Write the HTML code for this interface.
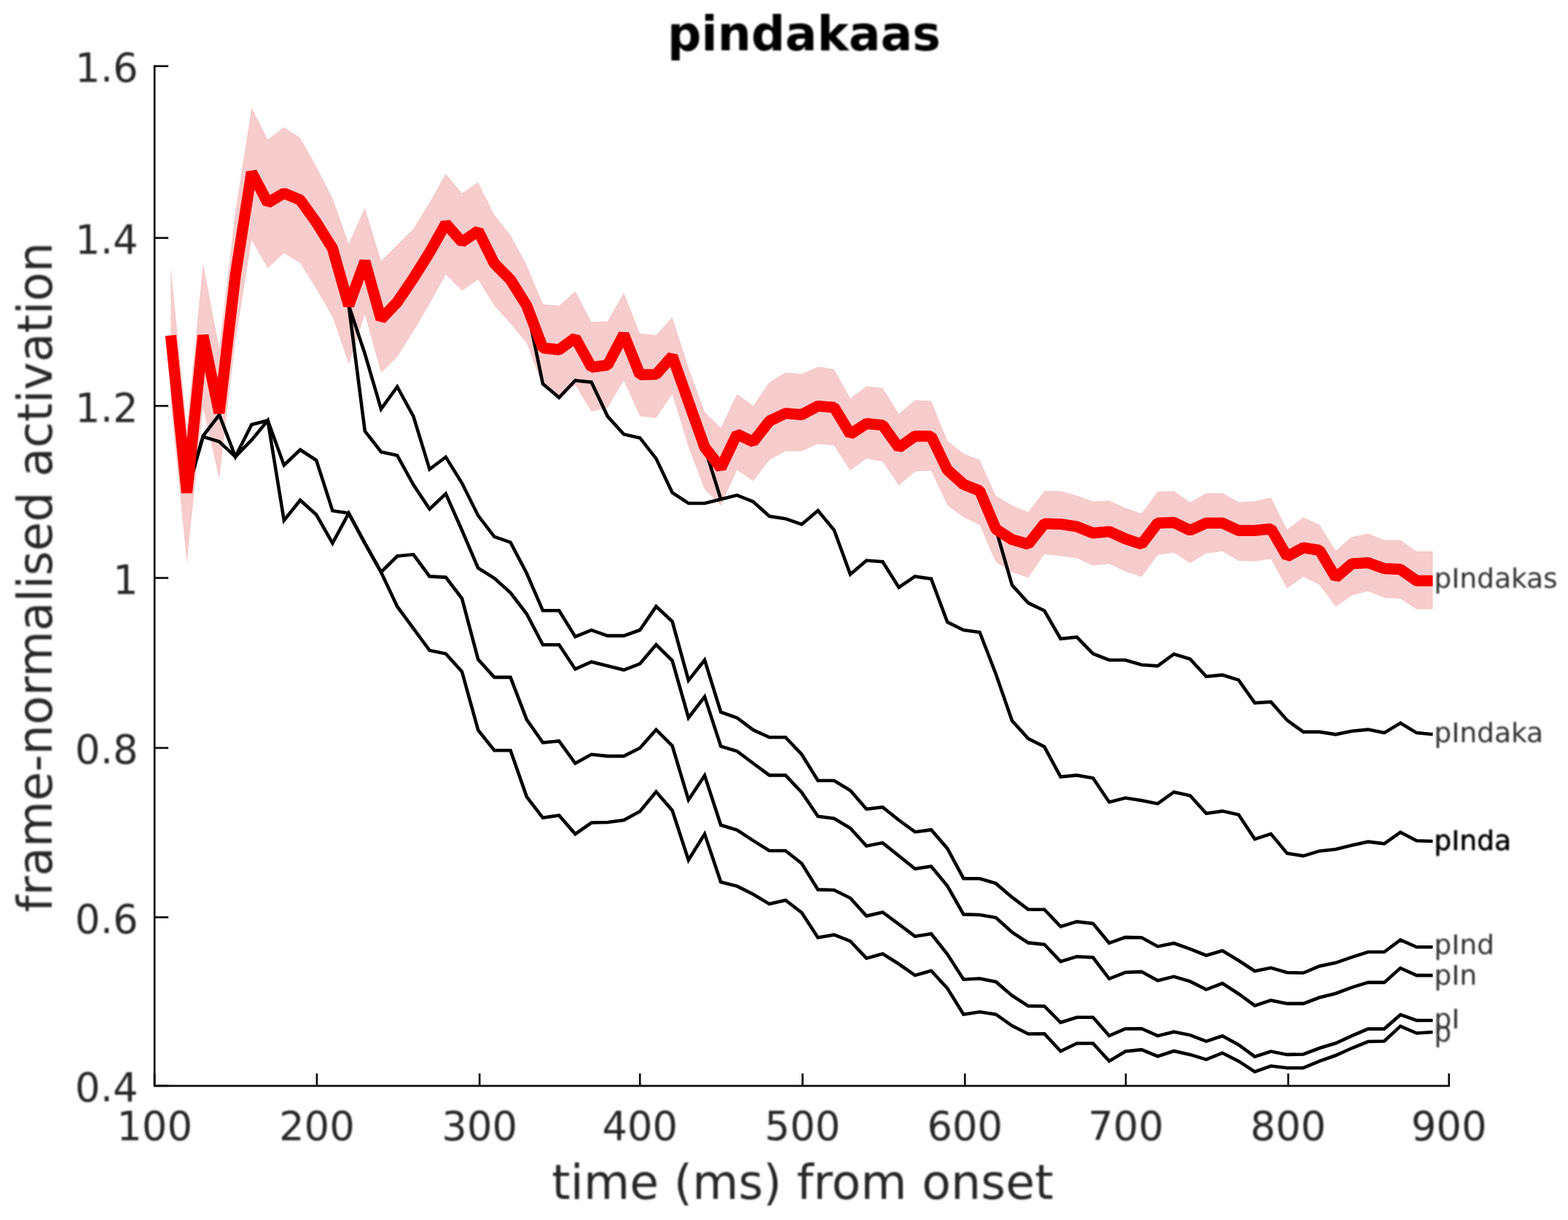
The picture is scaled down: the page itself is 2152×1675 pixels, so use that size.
<!DOCTYPE html>
<html lang="nl">
<head>
<meta charset="utf-8">
<title>pindakaas</title>
<style>
html,body{margin:0;padding:0;background:#fff;}
body{width:2152px;height:1675px;overflow:hidden;}
svg{display:block;}
text{font-family:"DejaVu Sans","Liberation Sans",sans-serif;fill:#262626;}
.soft{filter:blur(0.8px);}
.tick{font-size:54.4px;}
.lab{font-size:65px;}
.ttl{font-size:65px;font-weight:bold;fill:#000;}
.cl{font-size:37.6px;fill:#2e2e2e;}
.cl2{fill:#000;stroke:#000;stroke-width:0.5;}
.ax{stroke:#0d0d0d;stroke-width:2.7;fill:none;stroke-linecap:butt;}
.k{fill:none;stroke:#000;stroke-width:4.6;stroke-linejoin:miter;stroke-miterlimit:3;stroke-linecap:butt;}
.r{fill:none;stroke:#f80000;stroke-width:15.2;stroke-linejoin:bevel;stroke-linecap:butt;}
.band{fill:#f6cccc;stroke:none;}
</style>
</head>
<body>
<svg xmlns="http://www.w3.org/2000/svg" width="2152" height="1675" viewBox="0 0 2152 1675">
<rect width="2152" height="1675" fill="#fff"/>
<g id="plot">
<polygon class="band" points="234.3,366.8 256.5,585 278.7,361.2 300.9,478 323.1,290 345.3,148 367.5,191.5 389.8,174.8 412,189.3 434.2,228.4 456.4,271.9 478.6,334.4 500.8,285.3 523,357.9 545.2,336 567.4,314 589.6,278 611.8,238.4 634,265.2 656.2,250 678.4,294.7 700.6,322.7 722.8,364 745,417.5 767.3,419.8 789.5,399.7 811.7,442.1 833.9,441 856.1,401.9 878.3,457.7 900.5,460 922.7,435.4 944.9,504.6 967.1,565.5 989.3,587.2 1011.5,541 1033.7,557 1055.9,524.7 1078.1,511.3 1100.3,513.5 1122.6,503.4 1144.8,506.8 1167,547 1189.2,530.2 1211.4,532.5 1233.6,568.2 1255.8,549.2 1278,550.3 1300.2,605 1322.4,622.7 1344.6,631.4 1366.8,680.6 1389,694 1411.2,702.9 1433.4,673.9 1455.6,673.9 1477.9,680.6 1500.1,688.4 1522.3,687.3 1544.5,697.3 1566.7,705.1 1588.9,675 1611.1,673.9 1633.3,689.5 1655.5,677.2 1677.7,677 1699.9,689.3 1722.1,688.2 1744.3,683 1766.5,727 1788.7,710.2 1811,720.3 1833.2,756 1855.4,737 1877.6,732.6 1899.8,741.5 1922,741.5 1944.2,757.1 1966.4,757.1 1966.4,836.4 1944.2,836.4 1922,821.9 1899.8,820.8 1877.6,811.8 1855.4,817.4 1833.2,833 1811,802.9 1788.7,791.7 1766.5,808 1744.3,767.4 1722.1,770.8 1699.9,770 1677.7,757 1655.5,759.8 1633.3,773.2 1611.1,758.7 1588.9,762.1 1566.7,792.2 1544.5,784.4 1522.3,774.3 1500.1,776.6 1477.9,766.5 1455.6,763.2 1433.4,760.9 1411.2,793.3 1389,785.5 1366.8,772.1 1344.6,720.8 1322.4,710 1300.2,694 1278,646.3 1255.8,647.4 1233.6,666.4 1211.4,634.1 1189.2,629.6 1167,646.3 1144.8,611.7 1122.6,609.5 1100.3,619.5 1078.1,619.5 1055.9,631.8 1033.7,660.8 1011.5,645.2 989.3,694.3 967.1,672 944.9,614 922.7,541 900.5,573.8 878.3,571.6 856.1,522.5 833.9,560 811.7,565 789.5,529 767.3,545 745,530 722.8,471.1 700.6,444.3 678.4,419.8 656.2,384 634,399.2 611.8,376.9 589.6,417 567.4,455 545.2,490 523,512 500.8,432 478.6,500 456.4,434.9 434.2,396.9 412,361.2 389.8,347.8 367.5,367.9 345.3,330 323.1,468 300.9,657.7 278.7,560 256.5,772.7 234.3,554"/>
<polyline class="k" points="256.5,676.5 278.7,599.6 300.9,606.3 323.1,627.1 345.3,604.1 367.5,577.3 389.8,714.6 412,686.7 434.2,706.8 456.4,745.8 478.6,704.6 500.8,745.8 523,785.5 545.2,832.7 567.4,862.9 589.6,893 611.8,897.5 634,922.1 656.2,1002.4 678.4,1030.2 700.6,1030.2 722.8,1093.8 745,1122.8 767.3,1119.4 789.5,1145.1 811.7,1129.5 833.9,1129 856.1,1126.1 878.3,1113.9 900.5,1087.1 922.7,1112.7 944.9,1180.8 967.1,1145.1 989.3,1211 1011.5,1216.6 1033.7,1227.7 1055.9,1241.1 1078.1,1236 1100.3,1253 1122.6,1287.3 1144.8,1283.4 1167,1292.2 1189.2,1315.6 1211.4,1309.6 1233.6,1323.5 1255.8,1339.1 1278,1332.8 1300.2,1356.9 1322.4,1392.7 1344.6,1389.3 1366.8,1392.7 1389,1408.3 1411.2,1419.5 1433.4,1419.2 1455.6,1443.3 1477.9,1432.5 1500.1,1432.5 1522.3,1456.9 1544.5,1443.5 1566.7,1441.2 1588.9,1450.2 1611.1,1443 1633.3,1447.9 1655.5,1454.6 1677.7,1445.7 1699.9,1456.9 1722.1,1471.4 1744.3,1463.5 1766.5,1466.2 1788.7,1466.2 1811,1456.9 1833.2,1449 1855.4,1439 1877.6,1430 1899.8,1429.5 1922,1408.9 1944.2,1418.5 1966.4,1417"/>
<polyline class="k" points="256.5,676.5 278.7,598.5 300.9,569.5 323.1,627.1 345.3,582.9 367.5,577.3 389.8,638.7 412,617.5 434.2,632 456.4,701.2 478.6,704.6 500.8,745.8 523,785.5 545.2,763.5 567.4,761.3 589.6,791.4 611.8,792.6 634,821.6 656.2,905.3 678.4,929.9 700.6,929.9 722.8,987.9 745,1019.5 767.3,1017.4 789.5,1048.1 811.7,1035.8 833.9,1038.1 856.1,1038.1 878.3,1027 900.5,1001.8 922.7,1024 944.9,1098.2 967.1,1064.7 989.3,1132.8 1011.5,1139.5 1033.7,1154.1 1055.9,1167.9 1078.1,1168 1100.3,1185.5 1122.6,1221.4 1144.8,1222 1167,1233 1189.2,1257.6 1211.4,1252.5 1233.6,1268.8 1255.8,1285.5 1278,1282.1 1300.2,1310.1 1322.4,1344.7 1344.6,1343.5 1366.8,1348 1389,1367 1411.2,1381.1 1433.4,1381.5 1455.6,1403.8 1477.9,1396.7 1500.1,1396.7 1522.3,1422 1544.5,1412.5 1566.7,1412.2 1588.9,1422.2 1611.1,1416.7 1633.3,1421.1 1655.5,1429.6 1677.7,1422.2 1699.9,1434.5 1722.1,1450.6 1744.3,1443.5 1766.5,1447.9 1788.7,1447.5 1811,1439 1833.2,1432.3 1855.4,1422.2 1877.6,1412.6 1899.8,1412.6 1922,1393.2 1944.2,1401 1966.4,1401"/>
<polyline class="k" points="478.6,419.3 500.8,591.8 523,620.4 545.2,625.3 567.4,665.5 589.6,699 611.8,677.8 634,728 656.2,780 678.4,793.8 700.6,813.8 722.8,842.8 745,885.2 767.3,885.2 789.5,918.7 811.7,908.7 833.9,914.2 856.1,919.8 878.3,911.3 900.5,885.1 922.7,907 944.9,985.5 967.1,956.5 989.3,1024.6 1011.5,1031.3 1033.7,1048 1055.9,1064.4 1078.1,1064.4 1100.3,1088 1122.6,1120.8 1144.8,1123.8 1167,1137 1189.2,1161.6 1211.4,1157.1 1233.6,1175 1255.8,1192.8 1278,1189.5 1300.2,1216.3 1322.4,1255.4 1344.6,1256 1366.8,1259.8 1389,1279.9 1411.2,1294.4 1433.4,1296.7 1455.6,1320.1 1477.9,1313.4 1500.1,1314.5 1522.3,1343.8 1544.5,1335 1566.7,1334.1 1588.9,1346.3 1611.1,1340.8 1633.3,1347.4 1655.5,1358.6 1677.7,1350 1699.9,1364.5 1722.1,1380.7 1744.3,1373.4 1766.5,1377.9 1788.7,1377.9 1811,1369.5 1833.2,1364 1855.4,1355.6 1877.6,1348.9 1899.8,1348.9 1922,1329.1 1944.2,1339.1 1966.4,1339.1"/>
<polyline class="k" points="478.6,419.3 500.8,485.8 523,561.7 545.2,531 567.4,571.7 589.6,644.3 611.8,627.5 634,663.3 656.2,707.9 678.4,736.8 700.6,744.6 722.8,787 745,838.3 767.3,838.3 789.5,874.1 811.7,865.1 833.9,872.9 856.1,872.9 878.3,865 900.5,832.6 922.7,853.3 944.9,934.1 967.1,906.2 989.3,977.7 1011.5,985.5 1033.7,1002.2 1055.9,1012.3 1078.1,1012.3 1100.3,1035.7 1122.6,1071.7 1144.8,1071.8 1167,1085.3 1189.2,1110.7 1211.4,1108.1 1233.6,1126 1255.8,1142.2 1278,1139.3 1300.2,1164.9 1322.4,1206.2 1344.6,1206.2 1366.8,1212.9 1389,1231.9 1411.2,1248.7 1433.4,1248.7 1455.6,1272.1 1477.9,1265.4 1500.1,1267.9 1522.3,1294.7 1544.5,1286.9 1566.7,1287.2 1588.9,1299.4 1611.1,1295 1633.3,1302.8 1655.5,1311.7 1677.7,1305.3 1699.9,1318.7 1722.1,1333.2 1744.3,1328.8 1766.5,1335.2 1788.7,1335.8 1811,1326.5 1833.2,1321.8 1855.4,1314.1 1877.6,1307 1899.8,1307 1922,1290.3 1944.2,1300.3 1966.4,1300.3"/>
<polyline class="k" points="722.8,419.5 745,526.9 767.3,545.9 789.5,522.5 811.7,524.7 833.9,571.6 856.1,596.2 878.3,601.2 900.5,629.6 922.7,676.5 944.9,691 967.1,691 989.3,685.4 1011.5,679.8 1033.7,688.8 1055.9,708.8 1078.1,712.2 1100.3,720 1122.6,701 1144.8,727.8 1167,788.5 1189.2,769.5 1211.4,771.3 1233.6,806.5 1255.8,791.4 1278,794.7 1300.2,854 1322.4,865 1344.6,868 1366.8,925.5 1389,989.6 1411.2,1014.1 1433.4,1025.3 1455.6,1066.6 1477.9,1064.4 1500.1,1068.3 1522.3,1101.2 1544.5,1095.6 1566.7,1099 1588.9,1103.4 1611.1,1087.4 1633.3,1092.3 1655.5,1116.8 1677.7,1113.6 1699.9,1118.6 1722.1,1152.1 1744.3,1144.8 1766.5,1171.6 1788.7,1175.1 1811,1168.4 1833.2,1166.1 1855.4,1160.6 1877.6,1155.7 1899.8,1158.3 1922,1142.7 1944.2,1154.3 1966.4,1155"/>
<polyline class="k" points="967.1,614 989.3,685.4"/>
<polyline class="k" points="1366.8,726.3 1389,803.4 1411.2,827.9 1433.4,838.5 1455.6,877 1477.9,874.7 1500.1,897.5 1522.3,906.2 1544.5,906.2 1566.7,912.7 1588.9,914.3 1611.1,898 1633.3,904.8 1655.5,928.8 1677.7,926.7 1699.9,933.6 1722.1,965.1 1744.3,963.7 1766.5,988.9 1788.7,1004.9 1811,1004.9 1833.2,1008.3 1855.4,1003.8 1877.6,1001.6 1899.8,1006.1 1922,992.7 1944.2,1006.1 1966.4,1008.3"/>
<polyline class="r" points="234.3,460.5 256.5,676.5 278.7,460.5 300.9,567 323.1,378 345.3,236.5 367.5,278.4 389.8,265.2 412,274.6 434.2,305.4 456.4,341.1 478.6,419.3 500.8,358.8 523,438.3 545.2,414.8 567.4,382 589.6,346.5 611.8,307 634,332.2 656.2,317 678.4,361.7 700.6,384.1 722.8,419.5 745,477.8 767.3,480.1 789.5,463.8 811.7,504.2 833.9,501.3 856.1,459 878.3,514.4 900.5,514 922.7,489 944.9,551.5 967.1,614 989.3,642.5 1011.5,596 1033.7,606.6 1055.9,578.2 1078.1,567.5 1100.3,569.3 1122.6,557.5 1144.8,559.3 1167,596 1189.2,581.6 1211.4,583.8 1233.6,614.6 1255.8,598.8 1278,599 1300.2,645 1322.4,665 1344.6,673.9 1366.8,726.3 1389,740.8 1411.2,747.1 1433.4,719 1455.6,719.6 1477.9,723 1500.1,731.9 1522.3,729.7 1544.5,739.7 1566.7,747.1 1588.9,718.1 1611.1,717.4 1633.3,728.1 1655.5,718.1 1677.7,718.1 1699.9,728.4 1722.1,728.4 1744.3,726 1766.5,764 1788.7,752 1811,755.5 1833.2,793 1855.4,774 1877.6,772.7 1899.8,780.6 1922,781.7 1944.2,797.3 1966.4,797.3"/>
<g id="axes">
<path class="ax" d="M212.1,89.5 V1490.8 H1989.9"/>
<path class="ax" d="M212.1,1490.8 v-17"/>
<path class="ax" d="M434.9,1490.8 v-17"/>
<path class="ax" d="M658.2,1490.8 v-17"/>
<path class="ax" d="M878.3,1490.8 v-17"/>
<path class="ax" d="M1101.5,1490.8 v-17"/>
<path class="ax" d="M1324.3,1490.8 v-17"/>
<path class="ax" d="M1545.1,1490.8 v-17"/>
<path class="ax" d="M1768,1490.8 v-17"/>
<path class="ax" d="M1988.6,1490.8 v-17"/>
<path class="ax" d="M212.1,1490.8 h19"/>
<path class="ax" d="M212.1,1259.4 h19"/>
<path class="ax" d="M212.1,1026.9 h19"/>
<path class="ax" d="M212.1,793.5 h19"/>
<path class="ax" d="M212.1,557.3 h19"/>
<path class="ax" d="M212.1,326.7 h19"/>
<path class="ax" d="M212.1,90.8 h19"/>
</g>
<g class="soft">
<text class="tick" x="212.1" y="1565" text-anchor="middle">100</text>
<text class="tick" x="434.9" y="1565" text-anchor="middle">200</text>
<text class="tick" x="658.2" y="1565" text-anchor="middle">300</text>
<text class="tick" x="878.3" y="1565" text-anchor="middle">400</text>
<text class="tick" x="1101.5" y="1565" text-anchor="middle">500</text>
<text class="tick" x="1324.3" y="1565" text-anchor="middle">600</text>
<text class="tick" x="1545.1" y="1565" text-anchor="middle">700</text>
<text class="tick" x="1768" y="1565" text-anchor="middle">800</text>
<text class="tick" x="1988.6" y="1565" text-anchor="middle">900</text>
<text class="tick" x="189.6" y="1512.2" text-anchor="end">0.4</text>
<text class="tick" x="189.6" y="1280.8" text-anchor="end">0.6</text>
<text class="tick" x="189.6" y="1048.3" text-anchor="end">0.8</text>
<text class="tick" x="189.6" y="814.9" text-anchor="end">1</text>
<text class="tick" x="189.6" y="578.7" text-anchor="end">1.2</text>
<text class="tick" x="189.6" y="348.1" text-anchor="end">1.4</text>
<text class="tick" x="189.6" y="112.2" text-anchor="end">1.6</text>
<text class="ttl" x="1103.5" y="69" text-anchor="middle">pindakaas</text>
<text class="lab" x="1101.5" y="1645.6" text-anchor="middle">time (ms) from onset</text>
<text class="lab" transform="translate(71,792.6) rotate(-90)" text-anchor="middle">frame-normalised activation</text>
<text class="cl" x="1968.3" y="806.5">pIndakas</text>
<text class="cl" x="1968.3" y="1019.2">pIndaka</text>
<text class="cl" x="1968.3" y="1167.3">pInda</text>
<text class="cl cl2" x="1968.3" y="1167.3">pInda</text>
<text class="cl" x="1968.3" y="1310.4">pInd</text>
<text class="cl" x="1968.3" y="1351.6">pIn</text>
<text class="cl" x="1968.3" y="1411.5">pI</text>
<text class="cl" x="1968.3" y="1430">p</text>
</g>
</g>
</svg>
</body>
</html>
